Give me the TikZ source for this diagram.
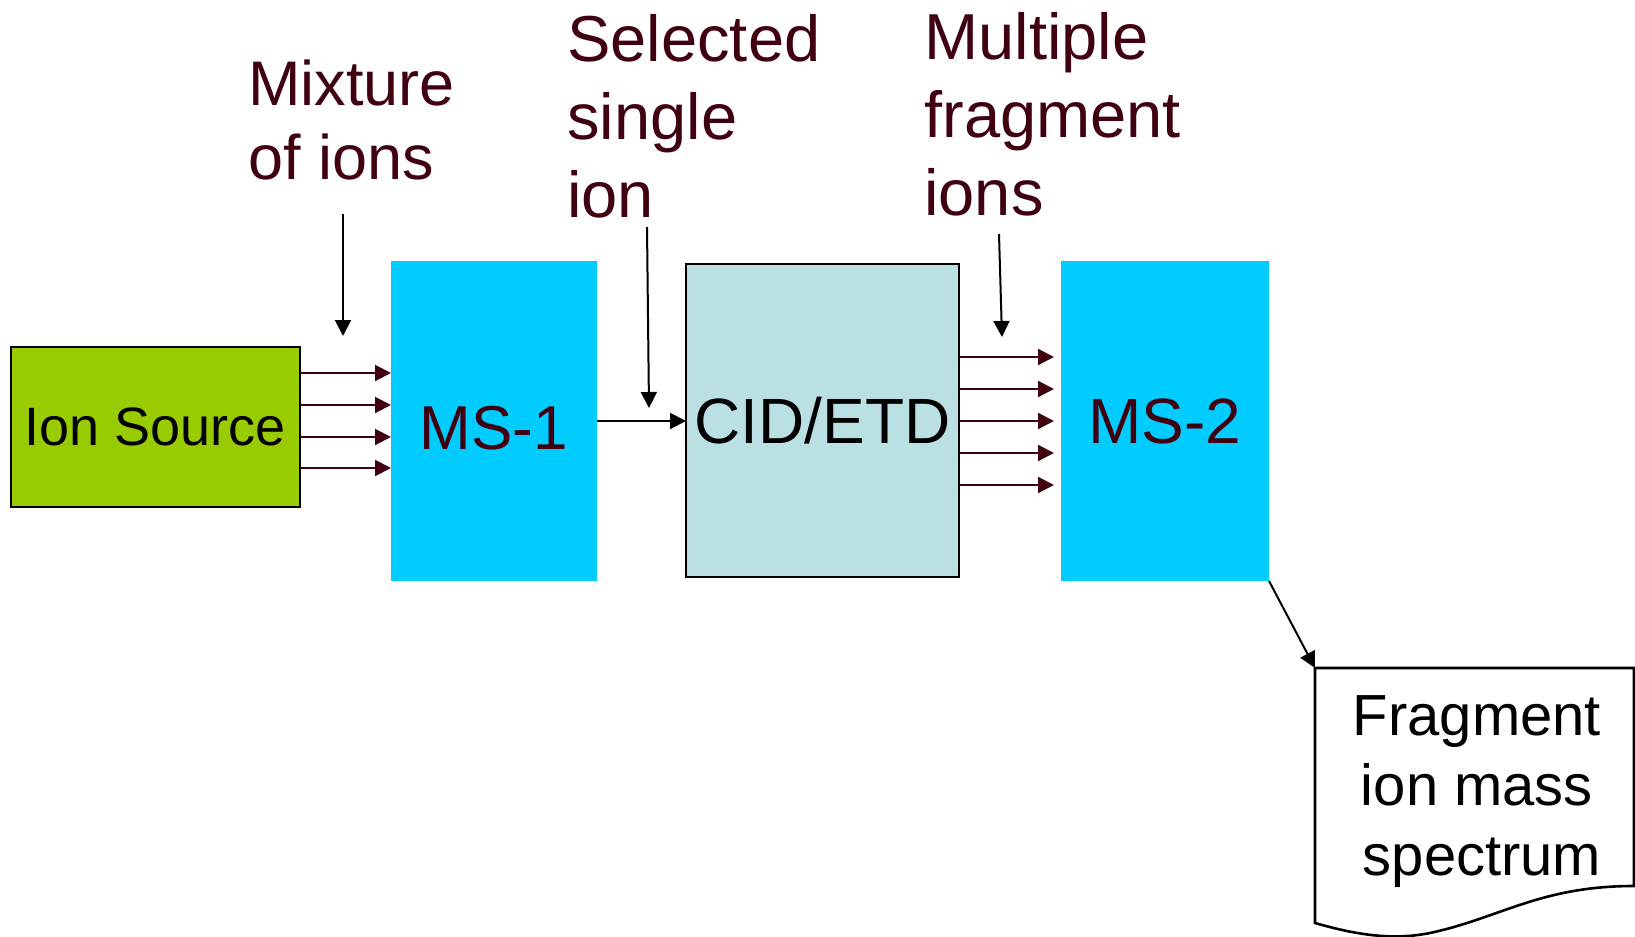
\documentclass[tikz,border=0pt]{standalone}
\usepackage{fontspec}
\setmainfont{Liberation Sans}
\usetikzlibrary{arrows.meta,calc}
\definecolor{maroon}{RGB}{64,0,16}
\definecolor{srcgreen}{HTML}{99CC00}
\definecolor{mscyan}{HTML}{00CCFF}
\definecolor{cidblue}{HTML}{BBE0E3}
\newcommand{\fsz}[2]{\fontsize{#1}{#2}\selectfont}
\begin{document}
\begin{tikzpicture}[x=0.5pt,y=-0.5pt,
  box/.style={rectangle, inner sep=0pt, outer sep=0pt},
  caption/.style={anchor=base west, align=left, inner sep=0pt, text=maroon},
  tip/.style={-{Triangle[length=8pt,width=8pt]}},
  feed/.style={tip, draw=maroon, line width=1pt},
  pointer/.style={tip, draw=black, line width=1pt},
]
\useasboundingbox (0,0) rectangle (1635,937);

% instrument stages
\node[box, draw=black, line width=1.2pt, fill=srcgreen,
      minimum width=144.5pt, minimum height=80pt, font=\fsz{27}{32}]
      (src) at (155.5,427) {Ion Source};
\node[box, fill=mscyan, minimum width=103pt, minimum height=160pt,
      font=\fsz{31}{37}, text=maroon, text height=28.5pt, text depth=0pt]
      (ms1) at (494,421) {MS-1};
\node[box, draw=black, line width=0.9pt, fill=cidblue,
      minimum width=136.5pt, minimum height=156.5pt, font=\fsz{32}{38}]
      (cid) at (822.5,420.5) {CID/ETD};
\node[box, fill=mscyan, minimum width=104pt, minimum height=160pt,
      font=\fsz{32}{38}, text=maroon]
      (ms2) at (1165,421) {MS-2};

% output document
\coordinate (docNW) at (1315,668);
\coordinate (docNE) at (1634,668);
\coordinate (docSE) at (1634,886);
\coordinate (docMid) at (1430,933);
\coordinate (docSW) at (1315,923);
\draw[line width=1.3pt, fill=white]
  (docNW) -- (docNE) -- (docSE)
  .. controls (1540,886) and (1500,918) .. (docMid)
  .. controls (1395,940) and (1360,936) .. (docSW) -- cycle;
% base anchor of a multi-line node sits on its last line
\node[anchor=base, align=center, inner sep=0pt, font=\fsz{29}{35}]
  (doc) at (1477,875) {Fragment\\ion mass\\\hspace*{5pt}spectrum};

% captions (anchored on the baseline of the last line)
\node[caption, font=\fsz{31.5}{37}] (mix) at (248,179) {Mixture\\of ions};
\node[caption, font=\fsz{32.5}{39}] (sel) at (567,217) {Selected\\single\\ion};
\node[caption, font=\fsz{32.5}{39}] (mul) at (924,215) {Multiple\\fragment\\ions};

% caption pointers
\coordinate (mixA) at (343,214);
\coordinate (mixB) at (343,336);
\coordinate (selA) at (647,227);
\coordinate (selB) at (649,408);
\coordinate (mulA) at (999,234);
\coordinate (mulB) at (1002,337);
\draw[pointer] (mixA) -- (mixB);
\draw[pointer] (selA) -- (selB);
\draw[pointer] (mulA) -- (mulB);

% ion beams into MS-1
\foreach \dy [count=\i] in {-48,-16,16,47} {
  \coordinate (in\i) at ($(ms1.west)+(0,\dy)$);
  \draw[feed] (in\i -| src.east) -- (in\i);
}

% selected ion into the cell
\draw[pointer] (ms1.east) -- (cid.west |- ms1.east);

% fragment ions into MS-2
\foreach \dy [count=\i] in {-64,-32,0,32,64} {
  \coordinate (frag\i) at ($(ms2.west)+(0,\dy)$);
  \draw[feed, shorten >=3.5pt] (frag\i -| cid.east) -- (frag\i);
}

% spectrum output
\draw[pointer] (ms2.south east) -- (docNW);
\end{tikzpicture}
\end{document}
